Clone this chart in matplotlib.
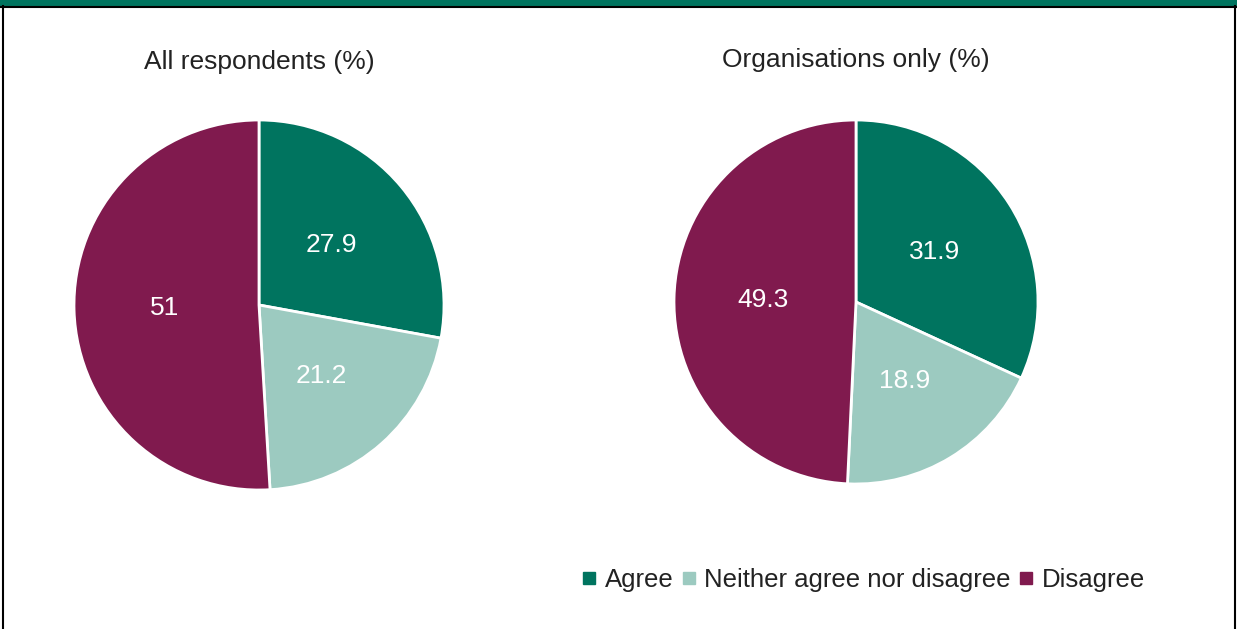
import matplotlib.pyplot as plt
from matplotlib.lines import Line2D
from matplotlib.patches import Rectangle

plt.rcParams['font.family'] = ['Liberation Sans', 'DejaVu Sans']

categories = ['Agree', 'Neither agree nor disagree', 'Disagree']
all_respondents = [27.9, 21.2, 51]
organisations = [31.9, 18.9, 49.3]
titles = ['All respondents (%)', 'Organisations only (%)']
colors = ['#00745F', '#9CCAC0', '#801A4E']

W, H = 1237, 629
fig = plt.figure(figsize=(W / 100, H / 100), dpi=100)

# header strip and side rules
fig.patches.append(Rectangle((0, 1 - 6 / H), 1, 6 / H, transform=fig.transFigure,
                             facecolor='#00745F', edgecolor='none', zorder=0))
fig.add_artist(Line2D([0, 1], [1 - 6.5 / H] * 2, color='black', lw=1.5))
fig.add_artist(Line2D([3 / W] * 2, [0, 1 - 6 / H], color='black', lw=1.5))
fig.add_artist(Line2D([1235 / W] * 2, [0, 1 - 6 / H], color='black', lw=1.5))


def pie_axes(cx, cy, r):
    return fig.add_axes([(cx - r) / W, 1 - (cy + r) / H, 2 * r / W, 2 * r / H])


specs = [(259, 305, 185, all_respondents, 62),
         (856, 302, 182, organisations, 60)]

for (cx, cy, r, vals, ty), title in zip(specs, titles):
    ax = pie_axes(cx, cy, r)
    wedges, texts = ax.pie(vals, labels=[f'{v:g}' for v in vals], colors=colors,
                           startangle=90, counterclock=False, labeldistance=0.51,
                           wedgeprops=dict(edgecolor='white', linewidth=2),
                           textprops=dict(color='white', fontsize=19))
    for t in texts:
        t.set_ha('center')
        t.set_va('center')
    ax.set_xlim(-1, 1)
    ax.set_ylim(-1, 1)
    ax.set_aspect('equal')
    fig.text(cx / W, 1 - ty / H, title, ha='center', va='center',
             fontsize=19, color='#222222')

handles = [Line2D([], [], marker='s', linestyle='none', markersize=8,
                  markerfacecolor=c, markeredgecolor=c) for c in colors]
fig.legend(handles, categories, loc='center', bbox_to_anchor=(864 / W, 1 - 580 / H),
           ncol=3, frameon=False, fontsize=18.5, handlelength=0.5, handletextpad=0.35,
           columnspacing=0.35, labelcolor='#222222')

fig.savefig('out.png', dpi=100)
